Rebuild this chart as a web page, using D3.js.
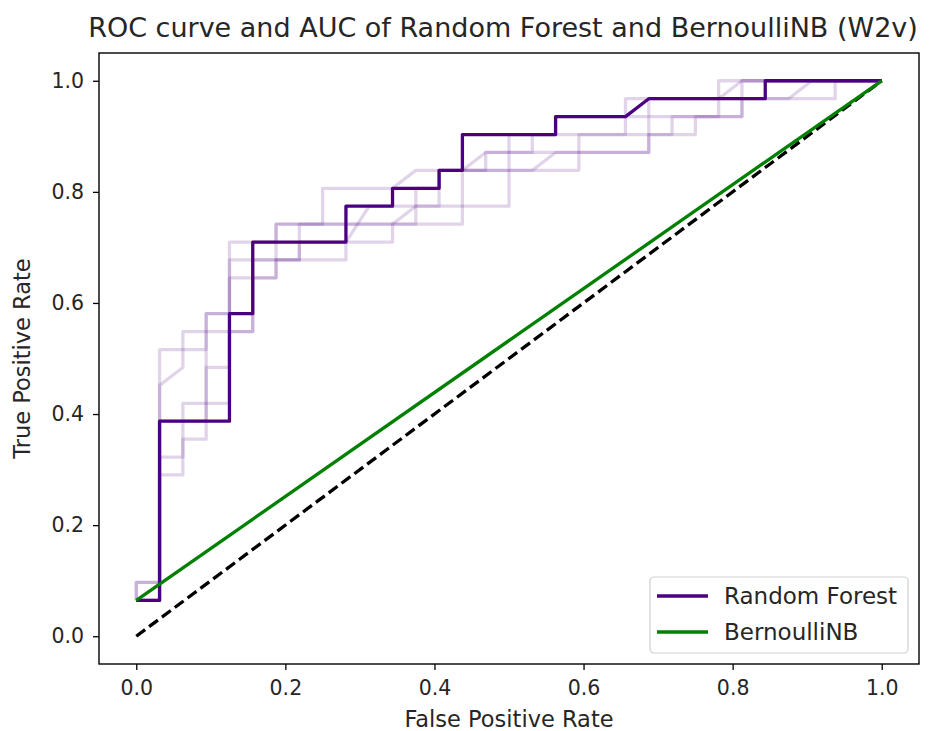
<!DOCTYPE html>
<html>
<head>
<meta charset="utf-8">
<script src="https://cdn.jsdelivr.net/npm/d3@7"></script>
<style>
  html, body { margin: 0; padding: 0; background: #fff; }
  svg text { font-family: "DejaVu Sans", sans-serif; fill: #262626; }
</style>
</head>
<body>
<svg id="chart" width="931" height="731"></svg>
<script>
// ROC points of the final Random Forest model: [false positive count, true positive count]
const nNeg = 32, nPos = 31;
const rfSteps = [
  [0, 2], [1, 2], [1, 12], [4, 12], [4, 18], [5, 18], [5, 22], [9, 22], [9, 24],
  [11, 24], [11, 25], [13, 25], [13, 26], [14, 26], [14, 28], [18, 28], [18, 29],
  [21, 29], [22, 30], [27, 30], [27, 31], [32, 31]
];
// ROC curves of the individual cross-validation folds (drawn faint)
const foldSteps = [
  [[0, 2], [0, 3], [1, 3], [1, 16], [3, 16], [3, 18], [4, 18], [4, 22], [6, 22], [6, 23],
   [12, 23], [12, 25], [13, 25], [13, 26], [19, 26], [19, 28], [23, 28], [23, 29], [26, 29],
   [26, 31], [32, 31]],
  [[0, 2], [1, 2], [1, 14], [2, 15], [2, 17], [5, 17], [5, 21], [7, 21], [7, 23], [14, 23],
   [14, 26], [15, 26], [15, 27], [22, 27], [22, 29], [25, 29], [25, 30], [26, 31], [32, 31]],
  [[0, 2], [1, 2], [1, 10], [2, 10], [2, 13], [4, 13], [4, 20], [6, 20], [6, 23], [8, 23],
   [8, 25], [11, 25], [12, 26], [16, 26], [16, 28], [18, 28], [18, 29], [22, 29], [22, 30],
   [25, 30], [25, 31], [32, 31]],
  [[0, 2], [0, 3], [1, 3], [1, 12], [3, 12], [3, 18], [4, 18], [4, 21], [7, 21], [7, 22],
   [9, 22], [10, 24], [13, 24], [13, 26], [14, 26], [15, 27], [17, 27], [17, 28], [21, 28],
   [21, 30], [30, 30], [30, 31], [32, 31]],
  [[0, 2], [1, 2], [1, 9], [2, 9], [2, 11], [3, 11], [3, 15], [4, 15], [4, 17], [5, 17],
   [5, 20], [6, 20], [6, 21], [9, 21], [9, 22], [11, 22], [11, 23], [12, 24], [16, 24],
   [16, 26], [17, 26], [18, 27], [22, 27], [22, 28], [24, 28], [24, 29], [26, 29], [26, 30],
   [28, 30], [29, 31], [32, 31]]
];
// BernoulliNB ROC: a single threshold
const nbFpr = [0, 1];
const nbTpr = [2 / 31, 1];
// chance line
const chanceFpr = [0, 1];
const chanceTpr = [0, 1];

const xTicks = [0.0, 0.2, 0.4, 0.6, 0.8, 1.0];
const yTicks = [0.0, 0.2, 0.4, 0.6, 0.8, 1.0];
const seriesNames = ["Random Forest", "BernoulliNB"];
const seriesColors = ["#4b0082", "#008000"];
const titleText = "ROC curve and AUC of Random Forest and BernoulliNB (W2v)";

const svg = d3.select("#chart");
const mLeft = 99, mRight = 919, mTop = 53, mBottom = 664;
const lw = 3.3;

const x = d3.scaleLinear().domain([-0.05, 1.05]).range([mLeft, mRight]);
const y = d3.scaleLinear().domain([-0.05, 1.05]).range([mBottom, mTop]);

const toRate = s => s.map(([k, j]) => [k / nNeg, j / nPos]);
const line = d3.line().x(d => x(d[0])).y(d => y(d[1]));

const plot = svg.append("g");

// faint fold curves
foldSteps.forEach(s => {
  plot.append("path")
    .attr("d", line(toRate(s)))
    .attr("fill", "none")
    .attr("stroke", seriesColors[0])
    .attr("stroke-opacity", 0.17)
    .attr("stroke-width", lw)
    .attr("stroke-linejoin", "round");
});

// chance diagonal
plot.append("path")
  .attr("d", line(d3.zip(chanceFpr, chanceTpr)))
  .attr("fill", "none")
  .attr("stroke", "#000")
  .attr("stroke-width", lw)
  .attr("stroke-dasharray", "11,5");

// Random Forest
plot.append("path")
  .attr("d", line(toRate(rfSteps)))
  .attr("fill", "none")
  .attr("stroke", seriesColors[0])
  .attr("stroke-width", lw)
  .attr("stroke-linejoin", "round");

// BernoulliNB
plot.append("path")
  .attr("d", line(d3.zip(nbFpr, nbTpr)))
  .attr("fill", "none")
  .attr("stroke", seriesColors[1])
  .attr("stroke-width", lw);

// axes
const xAxis = d3.axisBottom(x).tickValues(xTicks).tickFormat(d3.format(".1f")).tickSize(6).tickPadding(10);
const yAxis = d3.axisLeft(y).tickValues(yTicks).tickFormat(d3.format(".1f")).tickSize(6).tickPadding(9);

const gx = svg.append("g").attr("transform", `translate(0,${mBottom})`).call(xAxis);
const gy = svg.append("g").attr("transform", `translate(${mLeft},0)`).call(yAxis);
[gx, gy].forEach(g => {
  g.select(".domain").remove();
  g.selectAll(".tick line").attr("stroke", "#000").attr("stroke-width", 1.3);
  g.selectAll(".tick text").attr("font-size", 20.5).attr("fill", "#262626")
    .style("font-family", "DejaVu Sans, sans-serif");
});

// frame
svg.append("rect")
  .attr("x", mLeft).attr("y", mTop)
  .attr("width", mRight - mLeft).attr("height", mBottom - mTop)
  .attr("fill", "none").attr("stroke", "#000").attr("stroke-width", 1.4);

// title and axis labels
svg.append("text")
  .attr("x", 503).attr("y", 37)
  .attr("text-anchor", "middle").attr("font-size", 27)
  .text(titleText);

svg.append("text")
  .attr("x", (mLeft + mRight) / 2).attr("y", 727)
  .attr("text-anchor", "middle").attr("font-size", 22.5)
  .text("False Positive Rate");

svg.append("text")
  .attr("transform", `translate(30,${(mTop + mBottom) / 2}) rotate(-90)`)
  .attr("text-anchor", "middle").attr("font-size", 22.5)
  .text("True Positive Rate");

// legend
const lg = svg.append("g").attr("transform", "translate(650,577)");
lg.append("rect")
  .attr("width", 258).attr("height", 76).attr("rx", 4)
  .attr("fill", "#fff").attr("fill-opacity", 0.8)
  .attr("stroke", "#d0d0d0").attr("stroke-width", 1.2);
seriesNames.forEach((name, i) => {
  const cy = 19 + i * 36;
  lg.append("line")
    .attr("x1", 7).attr("x2", 58).attr("y1", cy).attr("y2", cy)
    .attr("stroke", seriesColors[i]).attr("stroke-width", lw);
  lg.append("text")
    .attr("x", 74).attr("y", cy + 8)
    .attr("font-size", 23)
    .text(name);
});
</script>
</body>
</html>
